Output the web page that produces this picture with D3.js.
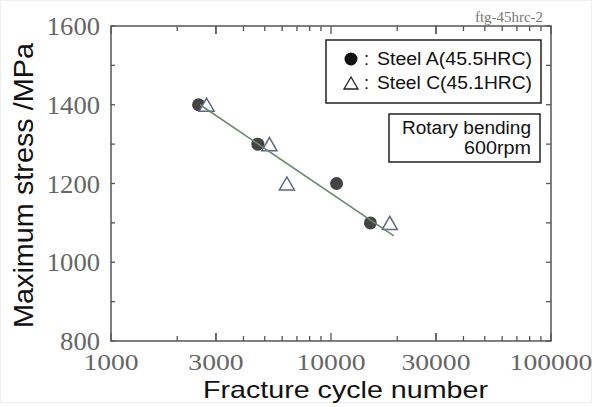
<!DOCTYPE html>
<html><head><meta charset="utf-8">
<script src="https://cdn.jsdelivr.net/npm/d3@7"></script>
<style>html,body{margin:0;padding:0;background:#fff;}svg{display:block;}</style>
</head><body>
<script>
// Data
const steelACycles = [2500, 4650, 10600, 15100];
const steelAStress = [1400, 1300, 1200, 1100];
const steelCCycles = [2720, 5250, 6300, 18500];
const steelCStress = [1400, 1300, 1200, 1100];
const fitCycles = [2540, 19300];
const fitStress = [1400, 1067];
const xTickValues = [1000, 3000, 10000, 30000, 100000];
const yTickValues = [800, 1000, 1200, 1400, 1600];
const legendLabels = ["Steel A(45.5HRC)", "Steel C(45.1HRC)"];

const W = 597, H = 407;
const L = 111, R = 551, T = 26, B = 341;
const svg = d3.select("body").append("svg").attr("width", W).attr("height", H);
svg.append("rect").attr("x",0.5).attr("y",0.5).attr("width",W-6).attr("height",H-5)
  .attr("fill","#fff").attr("stroke","#efefef");

const x = d3.scaleLog().domain([1000, 100000]).range([L, R]);
const y = d3.scaleLinear().domain([800, 1600]).range([B, T]);

const axisColor = "#555";
// minor ticks for log axis
const minor = [];
for (let d = 1000; d < 100000; d *= 10) for (let k = 2; k <= 9; k++) minor.push(d * k);
const yMinor = d3.range(800, 1601, 100);

// bottom axis ticks (inward)
const gAx = svg.append("g").attr("stroke", axisColor).attr("stroke-width", 1.3);
minor.forEach(v => {
  const major = xTickValues.includes(v);
  const len = major ? 8 : 5;
  gAx.append("line").attr("x1", x(v)).attr("x2", x(v)).attr("y1", B).attr("y2", B - len);
  gAx.append("line").attr("x1", x(v)).attr("x2", x(v)).attr("y1", T).attr("y2", T + len);
});
xTickValues.forEach(v => {
  gAx.append("line").attr("x1", x(v)).attr("x2", x(v)).attr("y1", B).attr("y2", B - 8);
  gAx.append("line").attr("x1", x(v)).attr("x2", x(v)).attr("y1", T).attr("y2", T + 8);
});
yMinor.forEach(v => {
  gAx.append("line").attr("x1", L).attr("x2", L + 4).attr("y1", y(v)).attr("y2", y(v));
  gAx.append("line").attr("x1", R).attr("x2", R - 5).attr("y1", y(v)).attr("y2", y(v));
});
svg.append("rect").attr("x", L).attr("y", T).attr("width", R - L).attr("height", B - T)
  .attr("fill", "none").attr("stroke", axisColor).attr("stroke-width", 1.5);

// tick labels
const serif = "'Liberation Serif','DejaVu Serif',serif";
svg.append("g").selectAll("text").data(yTickValues).join("text")
  .attr("x", 100).attr("y", d => y(d) + 9).attr("text-anchor", "end")
  .attr("font-family", serif).attr("font-size", 25).attr("fill", "#666")
  .attr("textLength", 53).attr("lengthAdjust", "spacingAndGlyphs")
  .attr("textLength", d => String(d).length * 13.3)
  .text(d => d);
svg.append("g").selectAll("text").data(xTickValues).join("text")
  .attr("x", d => x(d)).attr("y", 370).attr("text-anchor", "middle")
  .attr("font-family", serif).attr("font-size", 24).attr("fill", "#666")
  .attr("textLength", d => String(d).length * 13.8).attr("lengthAdjust", "spacingAndGlyphs")
  .text(d => d);

// axis titles
const sans = "Arial,'Liberation Sans',sans-serif";
svg.append("text").attr("x", 203).attr("y", 398)
  .attr("font-family", sans).attr("font-size", 24).attr("fill", "#111")
  .attr("textLength", 285).attr("lengthAdjust", "spacingAndGlyphs")
  .text("Fracture cycle number");
svg.append("text").attr("transform", "translate(33,328) rotate(-90)")
  .attr("font-family", sans).attr("font-size", 28).attr("fill", "#111")
  .attr("textLength", 285).attr("lengthAdjust", "spacingAndGlyphs")
  .text("Maximum stress /MPa");

// figure id
svg.append("text").attr("x", 475).attr("y", 22)
  .attr("font-family", serif).attr("font-size", 14).attr("fill", "#777")
  .attr("textLength", 68).attr("lengthAdjust", "spacingAndGlyphs")
  .text("ftg-45hrc-2");

// data
const triPath = (cx, cy, w, h) => `M${cx - w/2},${cy + h/2}L${cx + w/2},${cy + h/2}L${cx},${cy - h/2}Z`;
svg.append("g").selectAll("circle").data(steelACycles).join("circle")
  .attr("cx", d => x(d)).attr("cy", (d, i) => y(steelAStress[i])).attr("r", 6.5)
  .attr("fill", "#444");
svg.append("g").selectAll("path").data(steelCCycles).join("path")
  .attr("d", (d, i) => triPath(x(d), y(steelCStress[i]), 15, 13))
  .attr("fill", "#fff").attr("stroke", "#5d6888").attr("stroke-width", 1.5);
svg.append("line")
  .attr("x1", x(fitCycles[0])).attr("y1", y(fitStress[0]))
  .attr("x2", x(fitCycles[1])).attr("y2", y(fitStress[1]))
  .attr("stroke", "#6a8a6a").attr("stroke-width", 1.6);

// legend box
svg.append("rect").attr("x", 326).attr("y", 40).attr("width", 215).attr("height", 63)
  .attr("fill", "#fff").attr("stroke", "#222").attr("stroke-width", 1.5);
svg.append("circle").attr("cx", 351).attr("cy", 59).attr("r", 6.5).attr("fill", "#111");
svg.append("path").attr("d", triPath(351, 83, 14, 12)).attr("fill", "none")
  .attr("stroke", "#222").attr("stroke-width", 1.3);
[65, 89].forEach((by, i) => {
  svg.append("text").attr("x", 364).attr("y", by).attr("font-family", sans).attr("font-size", 18)
    .attr("fill", "#111").text(":");
  svg.append("text").attr("x", 377).attr("y", by).attr("font-family", sans).attr("font-size", 18)
    .attr("fill", "#111").attr("textLength", 155).attr("lengthAdjust", "spacingAndGlyphs")
    .text(legendLabels[i]);
});

// condition box
svg.append("rect").attr("x", 389).attr("y", 114).attr("width", 151).attr("height", 48)
  .attr("fill", "#fff").attr("stroke", "#222").attr("stroke-width", 1.5);
svg.append("text").attr("x", 531).attr("y", 134).attr("text-anchor", "end")
  .attr("font-family", sans).attr("font-size", 18).attr("fill", "#111")
  .attr("textLength", 129).attr("lengthAdjust", "spacingAndGlyphs").text("Rotary bending");
svg.append("text").attr("x", 531).attr("y", 154).attr("text-anchor", "end")
  .attr("font-family", sans).attr("font-size", 18).attr("fill", "#111")
  .attr("textLength", 67).attr("lengthAdjust", "spacingAndGlyphs").text("600rpm");
</script>
</body></html>
